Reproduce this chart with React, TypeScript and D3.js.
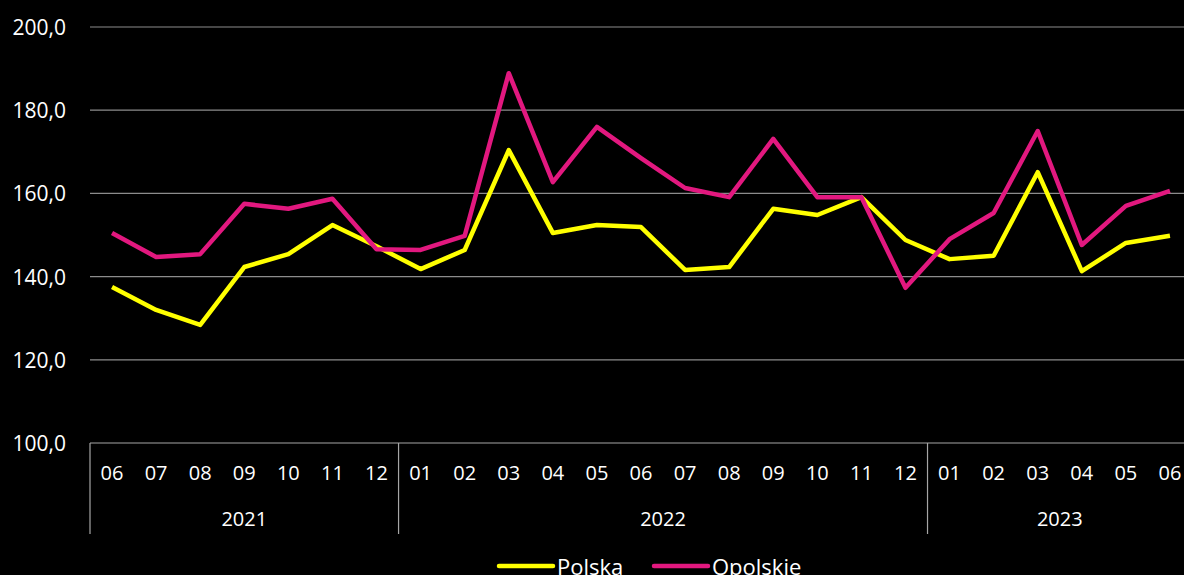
import React from "react";
import * as d3 from "d3";

// months, grouped by year
const months = [
  "06", "07", "08", "09", "10", "11", "12",
  "01", "02", "03", "04", "05", "06", "07", "08", "09", "10", "11", "12",
  "01", "02", "03", "04", "05", "06",
];
const years = ["2021", "2022", "2023"];
const yearSizes = [7, 12, 6];

const polska = [
  137.5, 132.0, 128.4, 142.3, 145.4, 152.4, 147.3,
  141.8, 146.4, 170.4, 150.5, 152.4, 151.9, 141.6, 142.3, 156.3, 154.8, 159.1, 148.8,
  144.2, 145.0, 165.1, 141.3, 148.1, 149.8,
];
const opolskie = [
  150.5, 144.7, 145.4, 157.5, 156.3, 158.7, 146.6,
  146.4, 149.8, 188.9, 162.7, 176.0, 168.5, 161.3, 159.1, 173.1, 159.1, 159.1, 137.3,
  149.0, 155.3, 175.0, 147.6, 157.0, 160.6,
];
const yTicks = [100, 120, 140, 160, 180, 200];

const series = [
  { name: "Polska", values: polska, color: "#ffff00" },
  { name: "Opolskie", values: opolskie, color: "#e2187f" },
];

const W = 1184;
const H = 575;
const left = 90;
const right = 1192;
const top = 27;
const bottom = 443;

const App = () => {
  const x = d3.scaleBand().domain(months.map((_, i) => String(i))).range([left, right]);
  const y = d3.scaleLinear().domain([100, 200]).range([bottom, top]);
  const cx = (i: number) => (x(String(i)) as number) + x.bandwidth() / 2;

  const line = d3
    .line<number>()
    .x((_, i) => cx(i))
    .y((d) => y(d));

  // year group boundaries
  const bounds: number[] = [0];
  yearSizes.forEach((n, i) => bounds.push(bounds[i] + n));

  const font = "'Open Sans', sans-serif";

  return (
    <div style={{ position: "fixed", left: 0, top: 0 }}>
      <svg width={W} height={H} style={{ display: "block", background: "#000" }}>
        {/* grid */}
        {yTicks.map((t) => (
          <g key={t}>
            <line
              x1={left}
              x2={W}
              y1={y(t)}
              y2={y(t)}
              stroke={t === 100 ? "#a6a6a6" : "#8c8c8c"}
              strokeWidth={1.2}
            />
            <text
              x={66}
              y={y(t)}
              textAnchor="end"
              dominantBaseline="central"
              fill="#fff"
              fontSize={21}
              fontFamily={font}
            >
              {d3.format(".1f")(t).replace(".", ",")}
            </text>
          </g>
        ))}

        {/* year separators */}
        {bounds.map((b, i) => {
          const xx = b < months.length ? (x(String(b)) as number) : right;
          return (
            <line key={i} x1={xx} x2={xx} y1={bottom} y2={534} stroke="#a6a6a6" strokeWidth={1.2} />
          );
        })}

        {/* month labels */}
        {months.map((m, i) => (
          <text
            key={i}
            x={cx(i)}
            y={472}
            textAnchor="middle"
            dominantBaseline="central"
            fill="#fff"
            fontSize={20}
            fontFamily={font}
          >
            {m}
          </text>
        ))}

        {/* year labels */}
        {years.map((yr, i) => {
          const x0 = x(String(bounds[i])) as number;
          const x1 = bounds[i + 1] < months.length ? (x(String(bounds[i + 1])) as number) : right;
          return (
            <text
              key={yr}
              x={(x0 + x1) / 2}
              y={518}
              textAnchor="middle"
              dominantBaseline="central"
              fill="#fff"
              fontSize={20}
              fontFamily={font}
            >
              {yr}
            </text>
          );
        })}

        {/* lines */}
        {series.map((s) => (
          <path
            key={s.name}
            d={line(s.values) as string}
            fill="none"
            stroke={s.color}
            strokeWidth={4.5}
            strokeLinejoin="round"
          />
        ))}

        {/* legend */}
        {series.map((s, i) => {
          const lx = 499 + i * 155;
          return (
            <g key={s.name}>
              <line x1={lx} x2={lx + 54} y1={566} y2={566} stroke={s.color} strokeWidth={4.5} strokeLinecap="round" />
              <text
                x={lx + 58}
                y={566}
                dominantBaseline="central"
                fill="#fff"
                fontSize={22}
                fontFamily={font}
              >
                {s.name}
              </text>
            </g>
          );
        })}
      </svg>
    </div>
  );
};

export default App;
